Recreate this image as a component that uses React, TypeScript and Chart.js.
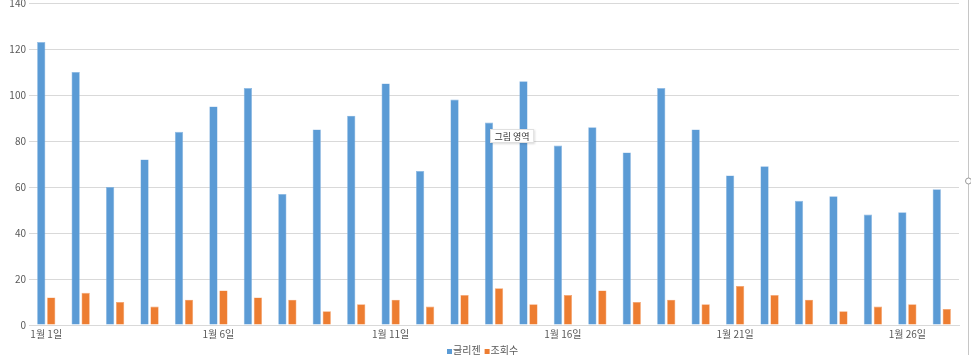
import React, { useEffect, useRef } from "react";
import { Chart, registerables } from "chart.js";

Chart.register(...registerables);

const categories = [
  "1월 1일", "1월 2일", "1월 3일", "1월 4일", "1월 5일", "1월 6일", "1월 7일",
  "1월 8일", "1월 9일", "1월 10일", "1월 11일", "1월 12일", "1월 13일", "1월 14일",
  "1월 15일", "1월 16일", "1월 17일", "1월 18일", "1월 19일", "1월 20일", "1월 21일",
  "1월 22일", "1월 23일", "1월 24일", "1월 25일", "1월 26일", "1월 27일",
];
const seriesNames = ["글리젠", "조회수"];
const glizenValues = [123, 110, 60, 72, 84, 95, 103, 57, 85, 91, 105, 67, 98, 88, 106, 78, 86, 75, 103, 85, 65, 69, 54, 56, 48, 49, 59];
const viewValues = [12, 14, 10, 8, 11, 15, 12, 11, 6, 9, 11, 8, 13, 16, 9, 13, 15, 10, 11, 9, 17, 13, 11, 6, 8, 9, 7];
const yMax = 140;
const yStep = 20;
const tooltipText = "그림 영역";

const FONT = "'Noto Sans CJK KR', 'Noto Sans', sans-serif";
const BLUE = "#5B9BD5";
const ORANGE = "#ED7D31";
const TICK = "#595959";
const GRID = "#D9D9D9";

const overlayPlugin = {
  id: "overlay",
  afterDraw(chart: any) {
    const ctx = chart.ctx as CanvasRenderingContext2D;
    ctx.save();
    // custom legend
    ctx.font = `10px ${FONT}`;
    ctx.textBaseline = "middle";
    ctx.textAlign = "left";
    const items = chart.data.datasets.map((d: any) => ({
      label: d.label,
      color: d.backgroundColor,
      w: ctx.measureText(d.label).width,
    }));
    const box = 5;
    const gap = 4;
    let total = 0;
    items.forEach((it: any, i: number) => {
      total += box + 1 + it.w + (i < items.length - 1 ? gap : 0);
    });
    let x = Math.round(483 - total / 2);
    items.forEach((it: any) => {
      ctx.fillStyle = it.color;
      ctx.fillRect(x, 349, box, box);
      x += box + 1;
      ctx.fillStyle = TICK;
      ctx.fillText(it.label, x, 350);
      x += it.w + gap;
    });

    // hover tooltip box
    ctx.font = `9px ${FONT}`;
    const tw = ctx.measureText(tooltipText).width;
    const bx = 490, by = 129, bw = tw + 9, bh = 14;
    ctx.shadowColor = "rgba(0,0,0,0.15)";
    ctx.shadowBlur = 2;
    ctx.shadowOffsetX = 1;
    ctx.shadowOffsetY = 1;
    ctx.fillStyle = "#FFFFFF";
    ctx.fillRect(bx, by, bw, bh);
    ctx.shadowColor = "transparent";
    ctx.strokeStyle = "#E0E0E0";
    ctx.lineWidth = 1;
    ctx.strokeRect(bx + 0.5, by + 0.5, bw - 1, bh - 1);
    ctx.fillStyle = "#333333";
    ctx.fillText(tooltipText, bx + 4.5, by + bh / 2 + 0.5);

    // selection frame on the right
    ctx.strokeStyle = "#C6C6C6";
    ctx.beginPath();
    ctx.moveTo(968.5, 0);
    ctx.lineTo(968.5, 355);
    ctx.stroke();
    ctx.fillStyle = "#FFFFFF";
    ctx.strokeStyle = "#9A9A9A";
    ctx.beginPath();
    ctx.arc(968.5, 181, 3, 0, Math.PI * 2);
    ctx.fill();
    ctx.stroke();
    ctx.restore();
  },
};

export default function App() {
  const canvasRef = useRef<HTMLCanvasElement | null>(null);

  useEffect(() => {
    document.body.style.margin = "0";
    const canvas = canvasRef.current;
    if (!canvas) return;
    const chart = new Chart(canvas, {
      type: "bar",
      data: {
        labels: categories,
        datasets: [
          {
            label: seriesNames[0],
            data: glizenValues,
            backgroundColor: BLUE,
            borderColor: "#8DB9E3",
            borderWidth: 0.6,
            categoryPercentage: 0.58,
            barPercentage: 0.83,
          },
          {
            label: seriesNames[1],
            data: viewValues,
            backgroundColor: ORANGE,
            borderColor: "#F4A470",
            borderWidth: 0.6,
            categoryPercentage: 0.58,
            barPercentage: 0.83,
          },
        ],
      },
      options: {
        animation: false,
        responsive: true,
        maintainAspectRatio: false,
        layout: { padding: { top: 3, right: 12, bottom: 14, left: 0 } },
        plugins: {
          legend: { display: false },
          tooltip: { enabled: false },
          title: { display: false },
        },
        scales: {
          x: {
            grid: { display: false, drawTicks: false },
            border: { display: true, color: GRID, width: 1 },
            ticks: {
              autoSkip: false,
              maxRotation: 0,
              minRotation: 0,
              padding: 3,
              color: TICK,
              font: { family: FONT, size: 10 },
              callback: (_v: any, i: number) => (i % 5 === 0 ? categories[i] : ""),
            },
            afterFit: (s: any) => {
              s.height = 16;
              s.paddingLeft = 0;
              s.paddingRight = 0;
            },
          },
          y: {
            min: 0,
            max: yMax,
            ticks: {
              stepSize: yStep,
              padding: 3,
              color: TICK,
              font: { family: FONT, size: 10 },
            },
            grid: { color: GRID, drawTicks: false },
            border: { display: false },
            afterFit: (s: any) => {
              s.width = 29;
              s.paddingTop = 0;
              s.paddingBottom = 0;
            },
          },
        },
      },
      plugins: [overlayPlugin],
    });
    return () => chart.destroy();
  }, []);

  return (
    <div style={{ position: "fixed", left: 0, top: 0, width: 971, height: 355, background: "#FFFFFF" }}>
      <canvas ref={canvasRef} />
    </div>
  );
}
